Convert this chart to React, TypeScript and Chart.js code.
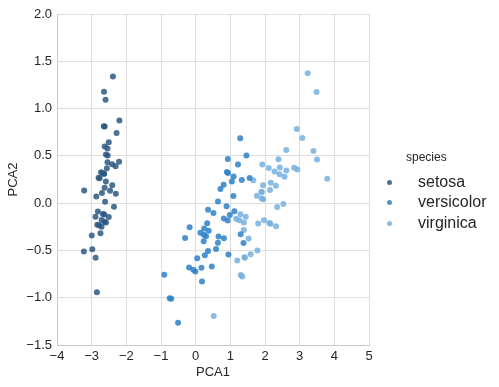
import React, { useEffect, useRef } from "react";
import { Chart, registerables } from "chart.js";

Chart.register(...registerables);

const setosaX = [-2.684, -2.714, -2.889, -2.745, -2.729, -2.281, -2.821, -2.626, -2.886, -2.673, -2.507, -2.613, -2.786, -3.224, -2.645, -2.386, -2.624, -2.648, -2.2, -2.588, -2.31, -2.544, -3.216, -2.303, -2.356, -2.507, -2.469, -2.562, -2.64, -2.632, -2.587, -2.41, -2.649, -2.599, -2.637, -2.866, -2.625, -2.801, -2.981, -2.59, -2.77, -2.849, -2.997, -2.406, -2.209, -2.714, -2.538, -2.839, -2.543, -2.703];
const setosaY = [0.319, -0.177, -0.145, -0.318, 0.327, 0.741, -0.089, 0.163, -0.578, -0.114, 0.645, 0.015, -0.235, -0.511, 1.179, 1.338, 0.811, 0.312, 0.873, 0.514, 0.391, 0.433, 0.133, 0.099, -0.037, -0.146, 0.131, 0.368, 0.312, -0.197, -0.204, 0.411, 0.813, 1.093, -0.121, 0.069, 0.599, 0.269, -0.488, 0.229, 0.264, -0.941, -0.342, 0.189, 0.437, -0.25, 0.504, -0.228, 0.579, 0.108];

const versicolorX = [1.285, 0.932, 1.464, 0.183, 1.088, 0.642, 1.095, -0.749, 1.044, -0.009, -0.508, 0.512, 0.265, 0.985, -0.174, 0.928, 0.66, 0.236, 0.945, 0.045, 1.116, 0.358, 1.298, 0.922, 0.715, 0.9, 1.332, 1.558, 0.813, -0.306, -0.068, -0.19, 0.136, 1.38, 0.588, 0.807, 1.221, 0.815, 0.246, 0.166, 0.465, 0.891, 0.231, -0.705, 0.357, 0.332, 0.376, 0.643, -0.906, 0.299];
const versicolorY = [0.685, 0.318, 0.504, -0.828, 0.075, -0.418, 0.283, -1.005, 0.228, -0.723, -1.266, -0.104, -0.55, -0.125, -0.255, 0.467, -0.353, -0.334, -0.543, -0.584, -0.085, -0.069, -0.328, -0.183, 0.149, 0.329, 0.244, 0.267, -0.163, -0.368, -0.705, -0.68, -0.314, -0.421, -0.484, 0.194, 0.408, -0.372, -0.269, -0.682, -0.671, -0.034, -0.404, -1.012, -0.505, -0.213, -0.293, 0.018, -0.756, -0.349];

const virginicaX = [2.531, 1.414, 2.616, 1.971, 2.35, 3.397, 0.521, 2.933, 2.32, 2.918, 1.662, 1.803, 2.166, 1.344, 1.586, 1.905, 1.95, 3.487, 3.796, 1.301, 2.428, 1.199, 3.5, 1.389, 2.275, 2.614, 1.259, 1.291, 2.124, 2.388, 2.842, 3.231, 2.159, 1.444, 1.78, 3.077, 2.144, 1.905, 1.169, 2.108, 2.314, 1.922, 1.414, 2.563, 2.419, 1.944, 1.527, 1.764, 1.901, 1.39];
const virginicaY = [-0.01, -0.575, 0.344, -0.18, -0.04, 0.551, -1.193, 0.356, -0.244, 0.783, 0.242, -0.216, 0.216, -0.777, -0.54, 0.119, 0.042, 1.176, 0.257, -0.761, 0.378, -0.606, 0.461, -0.204, 0.335, 0.561, -0.18, -0.117, -0.211, 0.465, 0.375, 1.374, -0.217, -0.143, -0.5, 0.688, 0.14, 0.049, -0.165, 0.372, 0.184, 0.409, -0.575, 0.278, 0.305, 0.188, -0.375, 0.079, 0.117, -0.283];

const speciesNames = ["setosa", "versicolor", "virginica"];
const speciesColors = ["rgba(43,88,129,0.85)", "rgba(45,129,200,0.85)", "rgba(117,176,223,0.85)"];

const xTicks = [-4, -3, -2, -1, 0, 1, 2, 3, 4, 5];
const yTicks = [-1.5, -1.0, -0.5, 0.0, 0.5, 1.0, 1.5, 2.0];

const FONT = "'Liberation Sans', Arial, sans-serif";

export default function App() {
  const ref = useRef<HTMLCanvasElement | null>(null);

  useEffect(() => {
    const xs = [setosaX, versicolorX, virginicaX];
    const ys = [setosaY, versicolorY, virginicaY];
    const chart = new Chart(ref.current!, {
      type: "scatter",
      data: {
        datasets: speciesNames.map((name, i) => ({
          label: name,
          data: xs[i].map((x, j) => ({ x, y: ys[i][j] })),
          backgroundColor: speciesColors[i],
          borderWidth: 0,
          pointRadius: 3,
        })),
      },
      options: {
        animation: false,
        responsive: false,
        maintainAspectRatio: false,
        layout: { padding: { top: 14, right: 130, left: 0, bottom: 0 } },
        plugins: { legend: { display: false }, tooltip: { enabled: false } },
        scales: {
          x: {
            type: "linear",
            min: -4,
            max: 5,
            afterBuildTicks: (s: any) => {
              s.ticks = xTicks.map((v) => ({ value: v }));
            },
            afterFit: (s: any) => {
              s.height = 42;
            },
            grid: { color: "#dedede", lineWidth: 1, drawTicks: false },
            border: { color: "#cccccc", width: 1 },
            ticks: {
              color: "#262626",
              font: { family: FONT, size: 13 },
              padding: 4,
              callback: (v: any) => String(v).replace("-", "\u2212"),
            },
            title: {
              display: true,
              text: "PCA1",
              color: "#262626",
              font: { family: FONT, size: 13 },
              padding: { top: 2, bottom: 7 },
            },
          },
          y: {
            type: "linear",
            min: -1.5,
            max: 2.0,
            afterBuildTicks: (s: any) => {
              s.ticks = yTicks.map((v) => ({ value: v }));
            },
            afterFit: (s: any) => {
              s.width = 57;
            },
            grid: { color: "#dedede", lineWidth: 1, drawTicks: false },
            border: { color: "#cccccc", width: 1 },
            ticks: {
              color: "#262626",
              font: { family: FONT, size: 13 },
              padding: 5,
              callback: (v: any) => Number(v).toFixed(1).replace("-", "\u2212"),
            },
            title: {
              display: true,
              text: "PCA2",
              color: "#262626",
              font: { family: FONT, size: 13 },
              padding: { top: 6, bottom: 2 },
            },
          },
        },
      },
    });
    return () => chart.destroy();
  }, []);

  const legendRows = [182, 202, 223];

  return (
    <div style={{ position: "fixed", left: 0, top: 0, width: 499, height: 387, background: "#fff", fontFamily: FONT }}>
      <canvas ref={ref} width={499} height={387} style={{ position: "absolute", left: 0, top: 0 }} />
      <div style={{ position: "absolute", left: 406, top: 149, fontSize: 12, color: "#262626", lineHeight: "16px" }}>species</div>
      {speciesNames.map((name, i) => (
        <React.Fragment key={name}>
          <div
            style={{
              position: "absolute",
              left: 387,
              top: legendRows[i] - 2.5,
              width: 5,
              height: 5,
              borderRadius: "50%",
              background: speciesColors[i],
            }}
          />
          <div
            style={{
              position: "absolute",
              left: 418,
              top: legendRows[i] - 10,
              fontSize: 16,
              lineHeight: "20px",
              color: "#262626",
            }}
          >
            {name}
          </div>
        </React.Fragment>
      ))}
    </div>
  );
}
